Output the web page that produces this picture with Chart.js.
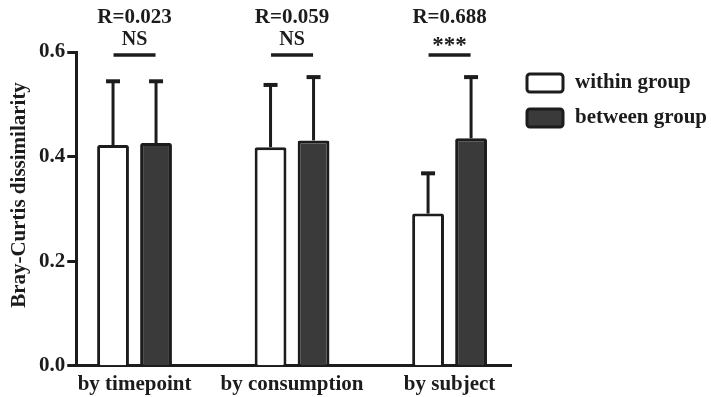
<!DOCTYPE html>
<html>
<head>
<meta charset="utf-8">
<script src="https://cdn.jsdelivr.net/npm/chart.js@4.4.0/dist/chart.umd.min.js"></script>
<style>
  html, body { margin: 0; padding: 0; background: #fff; }
  #wrap { width: 711px; height: 397px; }
</style>
</head>
<body>
<div id="wrap"><canvas id="bray"></canvas></div>
<script>
// values (mean + SD)
var categories = ["by timepoint", "by consumption", "by subject"];
var withinValues = [0.422, 0.418, 0.291];
var withinErrors = [0.122, 0.119, 0.077];
var betweenValues = [0.426, 0.431, 0.435];
var betweenErrors = [0.118, 0.121, 0.117];
var rLabels = ["R=0.023", "R=0.059", "R=0.688"];
var sigLabels = ["NS", "NS", "***"];
var yTicks = [0.0, 0.2, 0.4, 0.6];
var yTitle = "Bray-Curtis dissimilarity";

var ink = "#1c1c1c";
var serif = "'Liberation Serif', 'Times New Roman', serif";
var bold21 = { family: serif, size: 21, weight: "bold" };

function points(vals) {
  return vals.map(function (v, i) { return { x: i, y: v }; });
}

function roundBox(ctx, x, y, w, h, r) {
  ctx.beginPath();
  ctx.moveTo(x + r, y);
  ctx.arcTo(x + w, y, x + w, y + h, r);
  ctx.arcTo(x + w, y + h, x, y + h, r);
  ctx.arcTo(x, y + h, x, y, r);
  ctx.arcTo(x, y, x + w, y, r);
  ctx.closePath();
}

// SD whiskers, upward only
var errorBars = {
  id: "errorBars",
  afterDatasetsDraw: function (chart) {
    var ctx = chart.ctx, ys = chart.scales.y;
    chart.data.datasets.forEach(function (ds, di) {
      chart.getDatasetMeta(di).data.forEach(function (bar, i) {
        var top = ys.getPixelForValue(ds.data[i].y + ds.errors[i]);
        ctx.save();
        ctx.strokeStyle = ink;
        ctx.lineWidth = 3;
        ctx.beginPath();
        ctx.moveTo(bar.x, bar.y);
        ctx.lineTo(bar.x, top);
        ctx.stroke();
        ctx.lineWidth = 4;
        ctx.beginPath();
        ctx.moveTo(bar.x - 7, top);
        ctx.lineTo(bar.x + 7, top);
        ctx.stroke();
        ctx.restore();
      });
    });
  }
};

// R value + significance above each group, y title, legend on the right
var groupNotes = {
  id: "groupNotes",
  afterDraw: function (chart) {
    var ctx = chart.ctx, xs = chart.scales.x, area = chart.chartArea, top = area.top;
    ctx.save();
    ctx.fillStyle = ink;
    ctx.strokeStyle = ink;
    ctx.textAlign = "center";
    ctx.textBaseline = "middle";
    categories.forEach(function (c, i) {
      var cx = xs.getPixelForValue(i);
      ctx.font = "bold 21px " + serif;
      ctx.fillText(rLabels[i], cx, top - 34);
      var stars = sigLabels[i] === "***";
      ctx.font = (stars ? "bold 23px " : "bold 20px ") + serif;
      ctx.fillText(sigLabels[i], cx, top - (stars ? 6 : 12));
      ctx.lineWidth = 3.5;
      ctx.beginPath();
      ctx.moveTo(cx - 21, top + 3);
      ctx.lineTo(cx + 21, top + 3);
      ctx.stroke();
    });

    // y axis title
    ctx.save();
    ctx.translate(20, 195);
    ctx.rotate(-Math.PI / 2);
    ctx.font = "bold 21px " + serif;
    ctx.fillText(yTitle, 0, 0);
    ctx.restore();

    // legend
    var lx = area.right + 16, ly = top + 22;
    ctx.textAlign = "left";
    ctx.font = "bold 21px " + serif;
    chart.data.datasets.forEach(function (ds, di) {
      var y = ly + di * 35;
      roundBox(ctx, lx, y, 36, 18, 3);
      ctx.fillStyle = ds.backgroundColor;
      ctx.fill();
      ctx.lineWidth = 3;
      ctx.strokeStyle = ds.borderColor;
      ctx.stroke();
      ctx.fillStyle = ink;
      ctx.fillText(ds.label, lx + 48, y + 9);
    });
    ctx.restore();
  }
};

new Chart("bray", {
  type: "bar",
  data: {
    datasets: [{
      label: "within group",
      data: points(withinValues),
      errors: withinErrors,
      backgroundColor: "#ffffff",
      borderColor: ink,
      borderWidth: 3,
      borderRadius: 2
    }, {
      label: "between group",
      data: points(betweenValues),
      errors: betweenErrors,
      backgroundColor: "#3a3a3a",
      borderColor: ink,
      borderWidth: 3,
      borderRadius: 2
    }]
  },
  options: {
    responsive: true,
    maintainAspectRatio: false,
    animation: false,
    categoryPercentage: 0.546,
    barPercentage: 0.74,
    layout: { padding: { left: 37, top: 52, right: 200, bottom: -6 } },
    plugins: {
      tooltip: { enabled: false },
      legend: { display: false }
    },
    scales: {
      x: {
        type: "linear",
        offset: false,
        min: -0.37,
        max: 2.39,
        afterBuildTicks: function (s) {
          s.ticks = categories.map(function (c, i) { return { value: i }; });
        },
        border: { color: ink, width: 3 },
        grid: { display: false, drawTicks: false },
        ticks: {
          color: ink,
          padding: 6,
          font: bold21,
          maxRotation: 0,
          autoSkip: false,
          callback: function (v) { return categories[v]; }
        }
      },
      y: {
        min: 0,
        max: 0.6,
        afterBuildTicks: function (s) {
          s.ticks = yTicks.map(function (v) { return { value: v }; });
        },
        border: { color: ink, width: 3 },
        grid: { drawOnChartArea: false, tickLength: 9, tickWidth: 3, tickColor: ink },
        ticks: {
          color: ink,
          padding: 2,
          font: bold21,
          callback: function (v) { return v.toFixed(1); }
        }
      }
    }
  },
  plugins: [errorBars, groupNotes]
});
</script>
</body>
</html>
